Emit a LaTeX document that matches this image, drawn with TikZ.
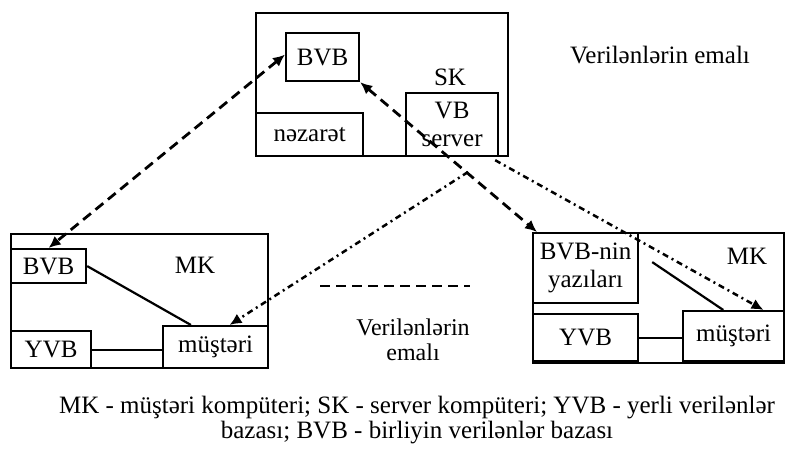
\documentclass[tikz,border=0pt]{standalone}
\usepackage{fontspec}
\setmainfont{Liberation Serif}
\usetikzlibrary{arrows.meta,calc}
\begin{document}
\begin{tikzpicture}[x=1pt,y=-1pt,
  box/.style={draw,line width=2.2pt,inner sep=0pt,anchor=north west,align=center,font=\fontsize{25}{28}\selectfont},
  lbl/.style={font=\fontsize{25}{28}\selectfont,inner sep=0pt},
  txt/.style={font=\fontsize{24}{25}\selectfont,inner sep=0pt,align=center},
  plain/.style={line width=2.2pt},
  dashln/.style={line width=2.8pt,dash pattern=on 10pt off 6pt},
  dotln/.style={line width=2.5pt,dash pattern=on 6pt off 4pt on 2pt off 4pt},
  tip/.style={-{Latex[length=12pt,width=11pt]}},
]
\useasboundingbox (0,0) rectangle (786,451);
% server computer
\node[box,minimum width=252pt,minimum height=143pt] (SK) at (255,12) {};
\node[lbl] (SKl) at (450,77) {SK};
\node[box,minimum width=73pt,minimum height=48pt] (BVB1) at (285,32) {BVB};
\node[box,minimum width=107pt,minimum height=43pt] (naz) at (255,112) {nəzarət};
\node[box,minimum width=92pt,minimum height=63pt] (VBs) at (405,92) {VB\\server};
% left client
\node[box,minimum width=257pt,minimum height=134pt] (MK1) at (10,233) {};
\node[lbl] (MK1l) at (195,265) {MK};
\node[box,minimum width=75pt,minimum height=34pt] (BVB2) at (10,248) {BVB};
\node[box,minimum width=80pt,minimum height=37pt] (YVB2) at (10,330) {YVB};
\node[box,minimum width=105pt,minimum height=42pt] (mus2) at (162,325) {müştəri};
% right client
\node[box,minimum width=251pt,minimum height=130pt] (MK2) at (532,232) {};
\node[lbl] (MK2l) at (747,256) {MK};
\node[box,minimum width=105pt,minimum height=70pt] (BVB3) at (532,232) {BVB-nin\\yazıları};
\node[box,minimum width=105pt,minimum height=47pt] (YVB3) at (532,313) {YVB};
\node[box,minimum width=101pt,minimum height=50pt] (mus3) at (682,310) {müştəri};
% texts
\node[txt,font=\fontsize{25}{28}\selectfont] (t1) at (660,55) {Verilənlərin emalı};
\node[txt] (t2) at (413,340) {Verilənlərin\\emalı};
\node[txt,font=\fontsize{25}{25.5}\selectfont] (cap) at (417,420) {MK - müştəri kompüteri; SK - server kompüteri; YVB - yerli verilənlər\\bazası; BVB - birliyin verilənlər bazası};
% internal connectors
\draw[plain] (BVB2.east) -- ($(mus2.north west)!0.27!(mus2.north east)$);
\draw[plain] (YVB2.east) -- (YVB2.east -| mus2.west);
\draw[plain] ($(BVB3.east)+(13,-6)$) -- ($(mus3.north west)!0.4!(mus3.north east)$);
\draw[plain] (YVB3.east) -- (YVB3.east -| mus3.west);
% links
\coordinate (c1) at (468,172);
\coordinate (c2) at (320,286);
\coordinate (c3) at (470,286);
\draw[dashln,{Latex[length=12pt,width=11pt]}-{Latex[length=12pt,width=11pt]}] ($(BVB1.north west)!0.45!(BVB1.south west)$) -- ($(BVB2.north west)!0.5!(BVB2.north east)$);
\draw[dashln,{Latex[length=12pt,width=11pt]}-{Latex[length=12pt,width=11pt]}] (BVB1.south east) -- ($(BVB3.north west)+(5,0)$);
\draw[dotln,tip] (c1) -- ($(mus2.north west)!0.63!(mus2.north east)$);
\draw[dotln,tip] ($(VBs.south east)+(-4,3)$) -- ($(mus3.north west)!0.79!(mus3.north east)$);
\draw[dashln] (c2) -- (c3);
\end{tikzpicture}
\end{document}
